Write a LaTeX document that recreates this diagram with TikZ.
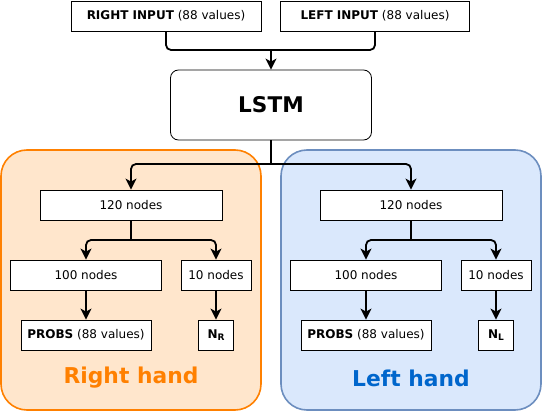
\documentclass[tikz,border=0pt]{standalone}
\usepackage{fontspec}
\setmainfont{DejaVu Sans}
\usetikzlibrary{arrows.meta}
\definecolor{rfill}{HTML}{FFE6CC}
\definecolor{rdraw}{HTML}{FF8000}
\definecolor{lfill}{HTML}{DAE8FC}
\definecolor{ldraw}{HTML}{6C8EBF}
\definecolor{ltext}{HTML}{0066CC}
\newcommand{\bigsub}[1]{\raisebox{-2.5pt}{\fontsize{9}{10}\selectfont #1}}
\begin{document}
\begin{tikzpicture}[x=1pt,y=-1pt,
  box/.style={draw=black,fill=white,line width=0.8pt,inner sep=0pt,font=\fontsize{12}{14}\selectfont},
  group/.style={rounded corners=26pt,line width=1.6pt},
  title/.style={font=\bfseries\fontsize{21.8}{26}\selectfont},
  conn/.style={line width=1.8pt,rounded corners=5pt,-{Stealth[length=11pt,width=11pt,inset=3pt]}},
  plain/.style={line width=1.8pt,rounded corners=5pt}]
\useasboundingbox (0,0) rectangle (542,412);
% containers
\draw[group,fill=rfill,draw=rdraw] (1,150) rectangle (261,410);
\draw[group,fill=lfill,draw=ldraw] (281,150) rectangle (541,410);
\node[title,text=rdraw] (tr) at (131,378) {Right hand};
\node[title,text=ltext] (tl) at (411,378) {Left hand};
% top
\node[box,minimum width=190pt,minimum height=30pt] (ri) at (166,16) {\textbf{RIGHT INPUT} (88 values)};
\node[box,minimum width=189pt,minimum height=30pt] (li) at (375,16) {\textbf{LEFT INPUT} (88 values)};
\node[box,rounded corners=8pt,minimum width=201pt,minimum height=70pt,font=\bfseries\fontsize{21.6}{26}\selectfont] (lstm) at (271,105) {LSTM};
\coordinate (m1) at (271,50);
\coordinate (m2) at (271,164);
\draw[plain] (ri.south) |- (m1);
\draw[plain] (li.south) |- (m1);
\draw[conn] (m1) -- (lstm.north);
% right hand
\node[box,minimum width=182pt,minimum height=30pt] (r120) at (131,205) {120 nodes};
\node[box,minimum width=151pt,minimum height=30pt] (r100) at (86,275) {100 nodes};
\node[box,minimum width=70pt,minimum height=30pt] (r10) at (216,275) {10 nodes};
\node[box,minimum width=130pt,minimum height=30pt] (rp) at (86,335) {\textbf{PROBS} (88 values)};
\node[box,minimum width=35pt,minimum height=30pt,font=\bfseries\fontsize{12}{14}\selectfont] (rn) at (216,335) {N\bigsub{R}};
% left hand
\node[box,minimum width=182pt,minimum height=30pt] (l120) at (411,205) {120 nodes};
\node[box,minimum width=151pt,minimum height=30pt] (l100) at (366,275) {100 nodes};
\node[box,minimum width=70pt,minimum height=30pt] (l10) at (496,275) {10 nodes};
\node[box,minimum width=130pt,minimum height=30pt] (lp) at (366,335) {\textbf{PROBS} (88 values)};
\node[box,minimum width=35pt,minimum height=30pt,font=\bfseries\fontsize{12}{14}\selectfont] (ln) at (496,335) {N\bigsub{L}};
% LSTM split
\draw[plain] (lstm.south) -- (m2);
\draw[conn] (m2) -| (r120.north);
\draw[conn] (m2) -| (l120.north);
% inner splits
\coordinate (rs) at (131,240);
\coordinate (ls) at (411,240);
\draw[plain] (r120.south) -- (rs);
\draw[conn] (rs) -| (r100.north);
\draw[conn] (rs) -| (r10.north);
\draw[plain] (l120.south) -- (ls);
\draw[conn] (ls) -| (l100.north);
\draw[conn] (ls) -| (l10.north);
\draw[conn] (r100.south) -- (rp.north);
\draw[conn] (r10.south) -- (rn.north);
\draw[conn] (l100.south) -- (lp.north);
\draw[conn] (l10.south) -- (ln.north);
\end{tikzpicture}
\end{document}
